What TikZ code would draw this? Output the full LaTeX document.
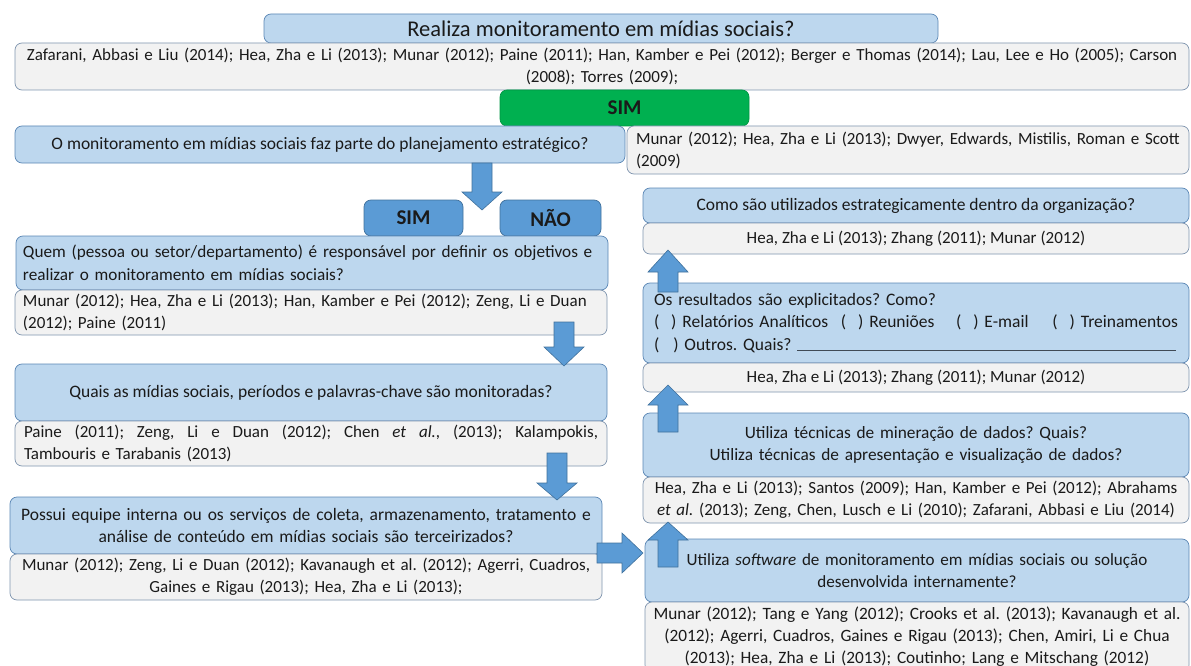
\documentclass[tikz,border=0pt]{standalone}
\usepackage{fontspec}
\setmainfont{Carlito}
\frenchspacing
\definecolor{qfill}{HTML}{BDD7EE}
\definecolor{qdraw}{HTML}{5B87B5}
\definecolor{rfill}{HTML}{F2F2F2}
\definecolor{rdraw}{HTML}{7F95AF}
\definecolor{bfill}{HTML}{5B9BD5}
\definecolor{bdraw}{HTML}{41719C}
\definecolor{gfill}{HTML}{00B050}
\definecolor{txt}{HTML}{1A1A1A}
\definecolor{ulc}{HTML}{404A55}
\begin{document}
\begin{tikzpicture}[x=1pt,y=-1pt,
  box/.style={rounded corners=7pt, line width=0.7pt, inner sep=0pt, text=txt},
  qbox/.style={box, fill=qfill, draw=qdraw, font=\fontsize{17.5}{22.5}\selectfont\frenchspacing},
  rbox/.style={box, fill=rfill, draw=rdraw, font=\fontsize{17}{22}\selectfont\frenchspacing},
  tagbox/.style={box, fill=bfill, draw=bdraw, font=\fontsize{21}{25}\selectfont\bfseries},
  barrow/.style={fill=bfill, draw=bdraw, line width=0.6pt, line join=miter}
]
\useasboundingbox (0,0) rectangle (1191,666);

% top
\node[qbox, font=\fontsize{22.5}{26}\selectfont, minimum width=674pt, minimum height=29pt] (title) at (601,28.5)
  {Realiza monitoramento em mídias sociais?};
\node[rbox, minimum width=1174pt, minimum height=47pt, text width=1170pt, align=center] (ref1) at (602,66.5)
  {Zafarani, Abbasi e Liu (2014); Hea, Zha e Li (2013); Munar (2012); Paine (2011); Han, Kamber e Pei (2012); Berger e Thomas (2014); Lau, Lee e Ho (2005); Carson\\(2008); Torres (2009);};
\node[box, fill=gfill, draw=gfill!85!black, font=\fontsize{21}{25}\selectfont\bfseries,
  minimum width=249pt, minimum height=36pt] (yes0) at (624.5,108) {SIM};

\node[qbox, minimum width=610pt, minimum height=37pt] (q2) at (320,144.5)
  {O monitoramento em mídias sociais faz parte do planejamento estratégico?};
\node[rbox, minimum width=562pt, minimum height=48pt, text width=544pt, align=left] (r2) at (908,150)
  {Munar (2012); Hea, Zha e Li (2013); Dwyer, Edwards, Mistilis, Roman e Scott\\(2009)};

\node[tagbox, minimum width=99pt, minimum height=36pt] (sim) at (413.5,218) {SIM};
\node[tagbox, minimum width=101pt, minimum height=36pt] (nao) at (550.5,218) {NÃO};

% left column
\node[qbox, font=\fontsize{17.2}{22.5}\selectfont\frenchspacing, minimum width=592pt, minimum height=54pt, text width=578pt, align=left] (q3) at (312,263)
  {Quem (pessoa ou setor/departamento) é responsável por definir os objetivos e\\realizar o monitoramento em mídias sociais?};
\node[rbox, minimum width=592pt, minimum height=45pt, text width=576pt, align=left] (r3) at (311,312.5)
  {Munar (2012); Hea, Zha e Li (2013); Han, Kamber e Pei (2012); Zeng, Li e Duan\\(2012); Paine (2011)};

\node[qbox, minimum width=592pt, minimum height=57pt] (q4) at (311,392.5)
  {Quais as mídias sociais, períodos e palavras-chave são monitoradas?};
\node[rbox, minimum width=592pt, minimum height=45pt, text width=574pt, align=left] (r4) at (311,443.5)
  {\makebox[574pt][s]{\spaceskip=0pt\relax Paine (2011); Zeng, Li e Duan (2012); Chen \textit{et al.}, (2013); Kalampokis,}\\Tambouris e Tarabanis (2013)};

\node[qbox, minimum width=592pt, minimum height=57pt, text width=584pt, align=center] (q5) at (306,525.5)
  {Possui equipe interna ou os serviços de coleta, armazenamento, tratamento e\\análise de conteúdo em mídias sociais são terceirizados?};
\node[rbox, minimum width=592pt, minimum height=46pt, text width=584pt, align=center] (r5) at (306,577)
  {Munar (2012); Zeng, Li e Duan (2012); Kavanaugh et al. (2012); Agerri, Cuadros,\\Gaines e Rigau (2013); Hea, Zha e Li (2013);};

% right column
\node[qbox, minimum width=546pt, minimum height=35pt] (q6) at (916,205.5)
  {Como são utilizados estrategicamente dentro da organização?};
\node[rbox, minimum width=546pt, minimum height=31pt] (r6) at (916,238.5)
  {Hea, Zha e Li (2013); Zhang (2011); Munar (2012)};

\node[qbox, minimum width=546pt, minimum height=80pt, text width=524pt, align=left] (q7) at (916,323)
  {Os resultados são explicitados? Como?\\
   \makebox[524pt][s]{(\hskip 0pt plus 16fill) Relatórios Analíticos\hskip 0pt plus 17fill(\hskip 0pt plus 16fill) Reuniões\hskip 0pt plus 29fill(\hskip 0pt plus 16fill) E-mail\hskip 0pt plus 32fill(\hskip 0pt plus 16fill) Treinamentos}\\
   \makebox[524pt][l]{(\hspace{14pt}) Outros. Quais? {\color{ulc}\leaders\hrule height 0.2pt depth 0.8pt\hskip 0pt plus 1fill}\hspace{2pt}}};
\node[rbox, minimum width=546pt, minimum height=29pt] (r7) at (916,377.5)
  {Hea, Zha e Li (2013); Zhang (2011); Munar (2012)};

\node[qbox, font=\fontsize{17.3}{22.5}\selectfont\frenchspacing, minimum width=546pt, minimum height=64pt, text width=530pt, align=center] (q8) at (916,445)
  {Utiliza técnicas de mineração de dados? Quais?\\Utiliza técnicas de apresentação e visualização de dados?};
\node[rbox, minimum width=546pt, minimum height=46pt, text width=540pt, align=center] (r8) at (916,500)
  {Hea, Zha e Li (2013); Santos (2009); Han, Kamber e Pei (2012); Abrahams\\\textit{et al.} (2013); Zeng, Chen, Lusch e Li (2010); Zafarani, Abbasi e Liu (2014)};

\node[qbox, font=\fontsize{17.1}{22.5}\selectfont\frenchspacing, minimum width=544pt, minimum height=63pt, text width=530pt, align=center] (q9) at (917,570.5)
  {Utiliza \textit{software} de monitoramento em mídias sociais ou solução\\desenvolvida internamente?};
\node[rbox, font=\fontsize{17.3}{22}\selectfont\frenchspacing, minimum width=544pt, minimum height=70pt, text width=538pt, align=center] (r9) at (917,637)
  {Munar (2012); Tang e Yang (2012); Crooks et al. (2013); Kavanaugh et al.\\(2012); Agerri, Cuadros, Gaines e Rigau (2013); Chen, Amiri, Li e Chua\\(2013); Hea, Zha e Li (2013); Coutinho; Lang e Mitschang (2012)};

% block arrows
\draw[barrow] (472,163) -- (492,163) -- (492,192) -- (502,192) -- (482,210) -- (462,192) -- (472,192) -- cycle;
\draw[barrow] (554,322) -- (574,322) -- (574,347) -- (584,347) -- (564,366) -- (544,347) -- (554,347) -- cycle;
\draw[barrow] (547,453) -- (567,453) -- (567,483) -- (577,483) -- (557,500) -- (537,483) -- (547,483) -- cycle;
\draw[barrow] (597,543) -- (622,543) -- (622,533) -- (643,553) -- (622,573) -- (622,563) -- (597,563) -- cycle;
\draw[barrow] (658,292) -- (678,292) -- (678,272) -- (688,272) -- (668,250) -- (648,272) -- (658,272) -- cycle;
\draw[barrow] (658,432) -- (678,432) -- (678,405) -- (688,405) -- (668,385) -- (648,405) -- (658,405) -- cycle;
\draw[barrow] (658,567) -- (678,567) -- (678,540) -- (688,540) -- (668,522) -- (648,540) -- (658,540) -- cycle;
\end{tikzpicture}
\end{document}
